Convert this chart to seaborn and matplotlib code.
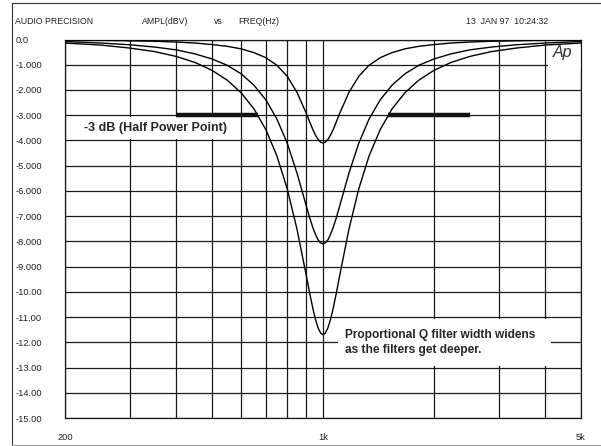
import numpy as np
import pandas as pd
import seaborn as sns
import matplotlib.pyplot as plt
from matplotlib.lines import Line2D
from matplotlib.patches import Rectangle
from matplotlib.ticker import FixedLocator, NullFormatter

# Frequency points (Hz)
freq_hz = [200, 250, 300, 350, 400, 450, 500, 550, 600, 650, 700, 750, 800, 850,
           900, 920, 940, 955, 970, 985, 1000, 1015, 1031, 1047, 1064, 1087, 1111,
           1176, 1250, 1333, 1429, 1538, 1667, 1818, 2000, 2222, 2500, 2857, 3333,
           4000, 5000]

# Amplitude (dBV) of the three notch filters at 1 kHz
deep_db = [-0.14, -0.22, -0.34, -0.48, -0.67, -0.91, -1.22, -1.61, -2.11, -2.75, -3.57,
           -4.61, -5.92, -7.51, -9.32, -10.04, -10.70, -11.11, -11.43, -11.63, -11.70,
           -11.63, -11.43, -11.11, -10.70, -10.04, -9.32, -7.51, -5.92, -4.61, -3.57,
           -2.75, -2.11, -1.61, -1.22, -0.91, -0.67, -0.48, -0.34, -0.22, -0.14]
mid_db = [-0.08, -0.14, -0.21, -0.30, -0.41, -0.57, -0.77, -1.02, -1.36, -1.81, -2.39,
          -3.15, -4.11, -5.29, -6.57, -7.06, -7.48, -7.74, -7.94, -8.06, -8.10,
          -8.06, -7.94, -7.74, -7.48, -7.06, -6.57, -5.29, -4.11, -3.15, -2.39,
          -1.81, -1.36, -1.02, -0.77, -0.57, -0.41, -0.30, -0.21, -0.14, -0.08]
shallow_db = [-0.02, -0.03, -0.05, -0.07, -0.10, -0.14, -0.20, -0.27, -0.37, -0.52, -0.72,
              -1.02, -1.46, -2.09, -2.91, -3.26, -3.59, -3.80, -3.96, -4.07, -4.10,
              -4.07, -3.96, -3.80, -3.59, -3.26, -2.91, -2.09, -1.46, -1.02, -0.72,
              -0.52, -0.37, -0.27, -0.20, -0.14, -0.10, -0.07, -0.05, -0.03, -0.02]

# Half power markers (-3 dB)
half_power_db = -3.0
half_left_hz = [400, 667]
half_right_hz = [1500, 2500]

y_ticks = [0, -1, -2, -3, -4, -5, -6, -7, -8, -9, -10, -11, -12, -13, -14, -15]
y_tick_labels = ["0.0", "-1.000", "-2.000", "-3.000", "-4.000", "-5.000", "-6.000",
                 "-7.000", "-8.000", "-9.000", "-10.00", "-11.00", "-12.00", "-13.00",
                 "-14.00", "-15.00"]
x_ticks = [200, 1000, 5000]
x_tick_labels = ["200", "1k", "5k"]
x_grid_minor = [300, 400, 500, 600, 700, 800, 900, 2000, 3000, 4000]

df = pd.DataFrame({
    "freq": freq_hz * 3,
    "ampl": deep_db + mid_db + shallow_db,
    "filter": ["deep"] * len(freq_hz) + ["mid"] * len(freq_hz) + ["shallow"] * len(freq_hz),
})

sns.set_style("white")
plt.rcParams["font.family"] = ["Liberation Sans", "DejaVu Sans"]

W, H = 601, 446
fig = plt.figure(figsize=(W / 100, H / 100), dpi=100)
ax = fig.add_axes([65 / W, 28 / H, 516 / W, 378.5 / H])

ax.set_xscale("log")
ax.set_xlim(200, 5000)
ax.set_ylim(-15, 0)

# grid
ax.set_xticks(x_ticks)
ax.set_xticklabels(x_tick_labels)
ax.xaxis.set_minor_locator(FixedLocator(x_grid_minor))
ax.xaxis.set_minor_formatter(NullFormatter())
ax.set_yticks(y_ticks)
ax.set_yticklabels(y_tick_labels)
ax.grid(axis="x", which="both", color="#1a1a1a", lw=0.9)
ax.grid(axis="y", which="major", color="#1a1a1a", lw=0.9)
ax.set_axisbelow(True)
ax.tick_params(which="both", length=0, labelsize=6.7, colors="#222222")
ax.tick_params(axis="x", pad=11)
ax.tick_params(axis="y", pad=35.5)
for lbl in ax.get_yticklabels():
    lbl.set_horizontalalignment("left")
for s in ax.spines.values():
    s.set_color("#1a1a1a")
    s.set_linewidth(0.9)

# white boxes hiding the grid under the notes
ax.add_patch(Rectangle((215, -3.93), 560 - 215, 0.86, facecolor="white", edgecolor="none", zorder=1.5))
ax.add_patch(Rectangle((1100, -12.93), 4150 - 1100, 1.86, facecolor="white", edgecolor="none", zorder=1.5))
ax.add_patch(Rectangle((4060, -1.15), 5000 - 4060, 0.85, facecolor="white", edgecolor="none", zorder=1.5))

sns.lineplot(data=df, x="freq", y="ampl", hue="filter", units="filter", estimator=None,
             palette=["black", "black", "black"], lw=1.0, legend=False, ax=ax, zorder=3)

ax.plot(half_left_hz, [half_power_db] * 2, color="#111111", lw=3.2, solid_capstyle="butt", zorder=4)
ax.plot(half_right_hz, [half_power_db] * 2, color="#111111", lw=3.2, solid_capstyle="butt", zorder=4)

ax.set_xlabel("")
ax.set_ylabel("")

ax.text(225, -3.5, "-3 dB (Half Power Point)", fontsize=9, fontweight="bold",
        ha="left", va="center", zorder=5)
ax.text(1147, -12.0, "Proportional Q filter width widens\nas the filters get deeper.",
        fontsize=8.6, fontweight="bold", ha="left", va="center", linespacing=1.3, zorder=5)
ax.text(4470, -0.5, "Ap", fontsize=11.5, style="italic", color="#333333",
        ha="center", va="center", zorder=5)

# header
hy = 1 - 22 / H
fig.text(15 / W, hy, "AUDIO PRECISION", fontsize=6.3, va="center", color="#222222")
fig.text(142 / W, hy, "AMPL(dBV)", fontsize=6.3, va="center", color="#222222")
fig.text(214 / W, hy, "vs", fontsize=6.3, va="center", color="#222222")
fig.text(238 / W, hy, "FREQ(Hz)", fontsize=6.3, va="center", color="#222222")
fig.text(466 / W, hy, "13  JAN 97  10:24:32", fontsize=6.3, va="center", color="#222222")

# page border
fig.add_artist(Line2D([12 / W, 12 / W], [0, 1 - 3 / H], transform=fig.transFigure, color="#333333", lw=0.8))
fig.add_artist(Line2D([12 / W, 1], [1 - 3 / H, 1 - 3 / H], transform=fig.transFigure, color="#333333", lw=0.8))
fig.add_artist(Line2D([12 / W, 1], [1 / H, 1 / H], transform=fig.transFigure, color="#999999", lw=0.8))

fig.savefig("out.png", dpi=100)
